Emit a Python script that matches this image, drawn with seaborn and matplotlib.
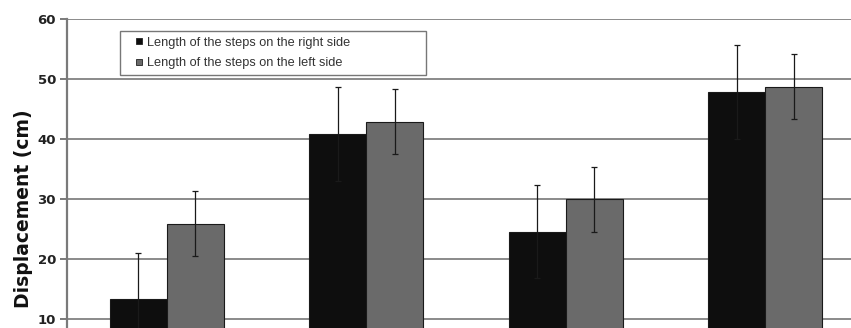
import matplotlib
matplotlib.use("Agg")
import matplotlib.pyplot as plt
from matplotlib.lines import Line2D
import seaborn as sns
import pandas as pd
import numpy as np

groups = ["A", "B", "C", "D"]
series = ["Length of the steps on the right side", "Length of the steps on the left side"]
right_mean = [13.3, 40.8, 24.6, 47.8]
right_sd = [7.7, 7.8, 7.7, 7.8]
left_mean = [25.9, 42.9, 30.0, 48.7]
left_sd = [5.4, 5.4, 5.4, 5.4]
yticks = [10, 20, 30, 40, 50, 60]

df = pd.DataFrame({
    "group": groups * 2,
    "side": [series[0]] * 4 + [series[1]] * 4,
    "mean": right_mean + left_mean,
    "sd": right_sd + left_sd,
})

sns.set_theme(style="white")
plt.rcParams["font.family"] = ["Liberation Sans", "DejaVu Sans"]

W, H = 851, 328
fig = plt.figure(figsize=(W / 100, H / 100), dpi=100)
ax = fig.add_axes([67 / W, 0, (851 - 67) / W, 1 - 19 / H])

colors = ["#0e0e0e", "#6a6a6a"]
palette = {series[0]: colors[0], series[1]: colors[1]}
sns.barplot(data=df, x="group", y="mean", hue="side", palette=palette,
            width=0.57, errorbar=None, edgecolor="#1a1a1a", linewidth=0.8,
            saturation=1, ax=ax, zorder=3, legend=False)

# error bars positioned on the bars drawn by seaborn
bars = [p for p in ax.patches if p.get_height() > 0]
sd_lookup = {}
for means, sds in [(right_mean, right_sd), (left_mean, left_sd)]:
    for m, d in zip(means, sds):
        sd_lookup[round(m, 3)] = d
for p in bars:
    h = p.get_height()
    x = p.get_x() + p.get_width() / 2
    d = sd_lookup.get(round(h, 3), 0)
    ax.errorbar(x, h, yerr=d, fmt="none", ecolor="#1a1a1a", elinewidth=0.9,
                capsize=2.2, capthick=0.9, zorder=4)

ax.set_xlim(-0.5, -0.5 + 784 / 199.5)
ax.set_ylim(8.55, 60)
ax.set_yticks(yticks)
ax.set_yticklabels([str(t) for t in yticks], fontsize=9.5, fontweight="bold",
                   color="#222222", family="DejaVu Sans")
ax.set_xticks([])
ax.set_xlabel("")
ax.set_ylabel("Displacement (cm)", fontsize=13.5, fontweight="bold", color="#111111",
              family="DejaVu Sans")
ax.yaxis.set_label_coords(-0.044, 1 - (208.5 - 19) / 309)

ax.yaxis.grid(True, color="#8a8a8a", linewidth=1.4, zorder=0)
ax.set_axisbelow(True)
for side in ["top", "right", "bottom"]:
    ax.spines[side].set_visible(False)
ax.spines["left"].set_color("#7a7a7a")
ax.spines["left"].set_linewidth(1.6)
ax.tick_params(axis="y", which="major", left=True, length=5, width=1.4, color="#7a7a7a", pad=3)

handles = [Line2D([], [], linestyle="none", marker="s", markersize=4.5,
                  markerfacecolor=c, markeredgecolor="#222222", markeredgewidth=0.6)
           for c in colors]
x0 = (120 - 67) / 784
w = (426 - 120) / 784
y_top = 1 - (31 - 19) / 309
y_bot = 1 - (74 - 19) / 309
leg = ax.legend(handles, series, loc="upper left", mode="expand",
                bbox_to_anchor=(x0, y_bot, w, y_top - y_bot),
                frameon=True, fancybox=False, fontsize=9.2, handlelength=2.1,
                handletextpad=-0.4, borderpad=0.45, labelspacing=0.65,
                borderaxespad=0)
leg.get_frame().set_edgecolor("#555555")
leg.get_frame().set_linewidth(1.0)
for t in leg.get_texts():
    t.set_color("#333333")

fig.savefig("out.png", dpi=100)
